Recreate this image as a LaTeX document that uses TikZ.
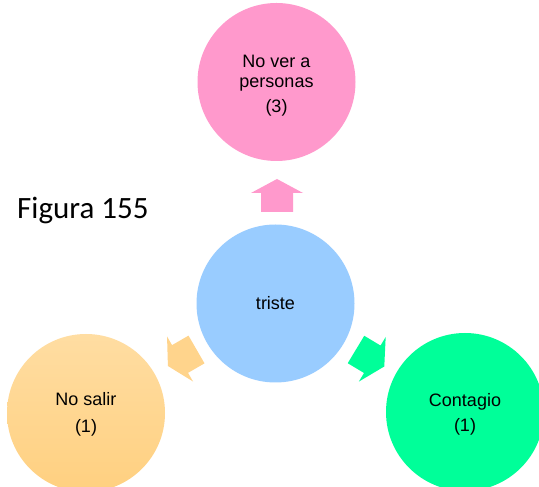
\documentclass[tikz,border=0pt]{standalone}
\usepackage{fontspec}
\setmainfont{Liberation Sans}
\newfontfamily\figfont{Carlito}
\definecolor{cpink}{HTML}{FF99CC}
\definecolor{cblue}{HTML}{99CCFF}
\definecolor{cgreen}{HTML}{00FF99}
\definecolor{corange}{HTML}{FFD48C}
\definecolor{corangetop}{HTML}{FFDDA2}
\definecolor{corangebot}{HTML}{FFD080}
\tikzset{
  circ/.style={circle, minimum size=158pt, inner sep=0pt, draw=none},
  lbl/.style={font=\fontsize{18}{20}\selectfont, anchor=base, inner sep=0pt},
  blockarr/.pic={\fill[#1] (0,-16) -- (19,-16) -- (19,-26) -- (33,0) -- (19,26) -- (19,16) -- (0,16) -- cycle;}
}
\begin{document}
\begin{tikzpicture}[x=1pt,y=1pt]
\clip (0,0) rectangle (539,487);
\fill[white] (0,0) rectangle (539,487);
% circles
\node[circ, fill=cpink] (top) at (276.5,405) {};
\node[circ, fill=cblue] (mid) at (275.5,183.5) {};
\node[circ, top color=corangetop, bottom color=corangebot] (left) at (86,74) {};
\node[circ, fill=cgreen] (right) at (465,75) {};
% labels
\node[lbl] (top1) at ([yshift=14]top.center) {No ver a};
\node[lbl] (top2) at ([yshift=-6]top.center) {personas};
\node[lbl] (top3) at ([yshift=-31]top.center) {(3)};
\node[lbl] (mid1) at ([yshift=-6.5]mid.center) {triste};
\node[lbl] (left1) at ([yshift=7]left.center) {No salir};
\node[lbl] (left2) at ([yshift=-20]left.center) {(1)};
\node[lbl] (right1) at ([yshift=5]right.center) {Contagio};
\node[lbl] (right2) at ([yshift=-20]right.center) {(1)};
% arrows
\pic[rotate=90] at (277,275) {blockarr=cpink};
\pic[rotate=210] at (196.5,137.5) {blockarr=corange};
\pic[rotate=-31] at (356,137.5) {blockarr=cgreen};
% caption
\node[font=\figfont\fontsize{31}{34}\selectfont, anchor=base west, inner sep=0pt] (fig) at (17,268) {Figura 155};
\end{tikzpicture}
\end{document}
